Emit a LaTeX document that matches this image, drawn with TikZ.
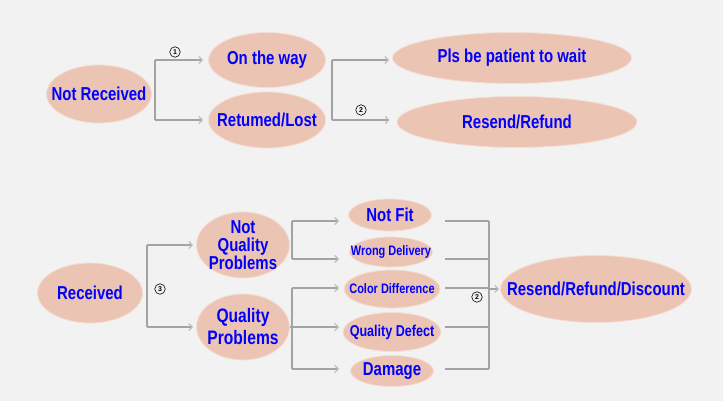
\documentclass[tikz,border=0pt]{standalone}
\usepackage{fontspec}
\setsansfont{Liberation Sans}
\newfontfamily\condsans{Liberation Sans}[FakeStretch=0.8]
\usepackage{tikz}
\usetikzlibrary{arrows.meta, shapes.geometric, calc}
\usepackage{xcolor}
\definecolor{peach}{RGB}{236,196,180}
\definecolor{rim}{RGB}{244,222,212}
\definecolor{bgray}{RGB}{242,242,242}
\definecolor{lgray}{RGB}{163,163,163}
\definecolor{tgray}{RGB}{190,190,190}
\definecolor{tblue}{RGB}{0,0,255}

\begin{document}
\begin{tikzpicture}[x=1pt, y=-1pt,
  oval/.style={ellipse, fill=peach, draw=rim, line width=0.8pt, inner sep=-60pt, text=tblue, align=center, font=\condsans\bfseries\fontsize{18.7}{18}\selectfont},
  small/.style={font=\condsans\bfseries\fontsize{13.7}{13}\selectfont},
  line/.style={draw=lgray, line width=1.6pt},
  arr/.style={line, -{Straight Barb[length=3.5pt, width=7pt, color=tgray, line width=1.2pt]}},
  num/.style={circle, draw, line width=0.6pt, inner sep=0pt, minimum size=10.5pt, font=\sffamily\bfseries\fontsize{7}{7}\selectfont}]
\useasboundingbox (0,0) rectangle (723,401);
\fill[bgray] (0,0) rectangle (723,401);

% not received
\node[oval, minimum width=105, minimum height=58] (nr) at (99,94) {Not Received};
\node[oval, minimum width=117, minimum height=55] (ow) at (267,60) {On the way};
\node[oval, minimum width=117, minimum height=56] (rl) at (267,120) {Retumed/Lost};
\node[oval, minimum width=239, minimum height=51] (pw) at (512,58) {Pls be patient to wait};
\node[oval, minimum width=240, minimum height=51] (rr) at (517,122) {Resend/Refund};

\coordinate (s1) at (155,90);
\coordinate (s2) at (332,90);
\draw[line] (s1 |- ow) -- (s1 |- rl);
\draw[arr, shorten >=5pt] (s1 |- ow) -- (ow.west);
\draw[arr, shorten >=5pt] (s1 |- rl) -- (rl.west);
\draw[line] (s2 |- ow) -- (s2 |- rl);
\draw[arr, shorten >=3pt] (s2 |- ow) -- (pw.west |- ow);
\draw[arr, shorten >=7pt] (s2 |- rl) -- (rr.west |- rl);
\node[num] (c1) at (175,52) {1};
\node[num] (c2) at (361,110) {2};

% received
\node[oval, minimum width=105, minimum height=60] (rc) at (90,293) {Received};
\node[oval, minimum width=93, minimum height=66] (nqp) at (243,245) {Not\\Quality\\Problems};
\node[oval, minimum width=93, minimum height=66, font=\condsans\bfseries\fontsize{19.5}{22}\selectfont] (qp) at (243,327) {Quality\\Problems};
\node[oval, minimum width=83, minimum height=32] (nf) at (390,215) {Not Fit};
\node[oval, small, minimum width=83, minimum height=30] (wd) at (391,252) {Wrong Delivery};
\node[oval, small, minimum width=96, minimum height=38] (cd) at (392,289) {Color Difference};
\node[oval, minimum width=98, minimum height=39, font=\condsans\bfseries\fontsize{15.7}{15}\selectfont] (qd) at (392,332) {Quality Defect};
\node[oval, minimum width=83, minimum height=31] (dm) at (392,371) {Damage};
\node[oval, minimum width=191, minimum height=67] (rrd) at (596,289) {Resend/Refund/Discount};

\foreach \n/\y in {1/221,2/259,3/288,4/327,5/369} {
  \coordinate (in\n) at (339,\y);
  \coordinate (out\n) at (445,\y);
}
\coordinate (s3) at (147,290);
\coordinate (s4) at (292,240);
\coordinate (s5) at (292,330);
\coordinate (s6) at (489,290);

\draw[line] (s3 |- nqp) -- (s3 |- qp);
\draw[arr, shorten >=3pt] (s3 |- nqp) -- (nqp.west);
\draw[arr, shorten >=3pt] (s3 |- qp) -- (qp.west);
\draw[line] (s4 |- in1) -- (s4 |- in2);
\draw[arr] (s4 |- in1) -- (in1);
\draw[arr] (s4 |- in2) -- (in2);
\draw[line] (s5 |- in3) -- (s5 |- in5);
\draw[arr] (s5 |- in3) -- (in3);
\draw[arr] (qp.east) -- (in4);
\draw[arr] (s5 |- in5) -- (in5);
\foreach \n in {1,...,5}
  \draw[line] (out\n) -- (s6 |- out\n);
\draw[line] (s6 |- out1) -- (s6 |- out5);
\draw[arr, shorten >=1pt] (s6 |- rrd) -- (rrd.west);
\node[num] (c3) at (160,289) {3};
\node[num] (c4) at (477,297) {2};
\end{tikzpicture}
\end{document}
